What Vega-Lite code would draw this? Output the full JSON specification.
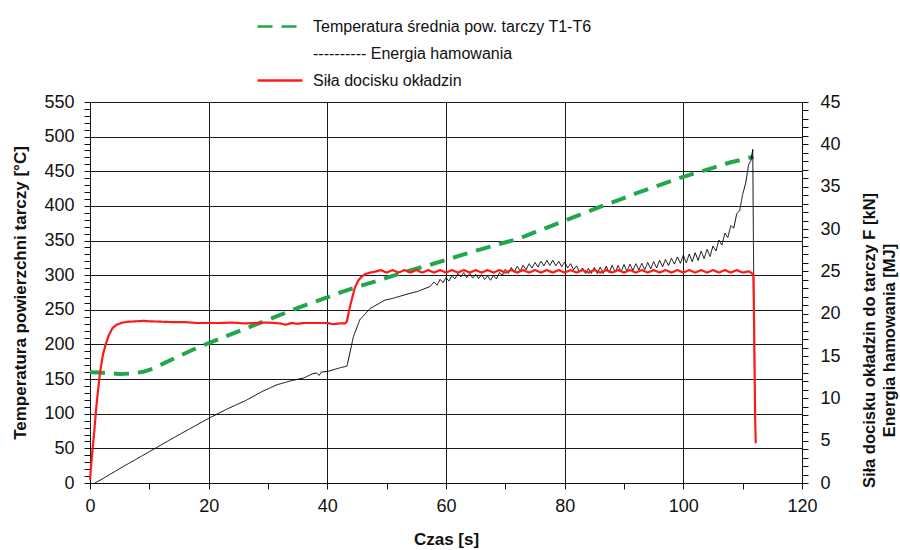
{
  "$schema": "https://vega.github.io/schema/vega-lite/v6.json",
  "width": 712,
  "height": 381,
  "autosize": {"type": "none"},
  "padding": {"left": 90, "top": 102, "right": 98, "bottom": 67},
  "background": "white",
  "config": {
    "font": "Liberation Sans",
    "view": {"stroke": null},
    "axis": {
      "labelFont": "Liberation Sans",
      "labelFontSize": 18,
      "labelColor": "#111",
      "titleFont": "Liberation Sans",
      "titleFontSize": 17,
      "titleFontWeight": "bold",
      "titleColor": "#111",
      "domainColor": "#111",
      "tickColor": "#111",
      "labelOverlap": false,
      "labelFlush": false,
      "labelBound": false
    },
    "legend": {
      "orient": "top",
      "offset": 13,
      "direction": "vertical",
      "titleOrient": "left",
      "titlePadding": 166,
      "titleFontSize": 4,
      "symbolType": "stroke",
      "symbolSize": 2025,
      "symbolStrokeWidth": 2.5,
      "labelFont": "Liberation Sans",
      "labelFontSize": 16,
      "labelColor": "#111",
      "labelOffset": 9,
      "labelLimit": 500,
      "rowPadding": 10,
      "clipHeight": 17
    }
  },
  "datasets": {
    "temp": [
      {"t": 0, "v": 160}, {"t": 1.5, "v": 159.5}, {"t": 3, "v": 158.5}, {"t": 5, "v": 157.5}, {"t": 7, "v": 158},
      {"t": 9, "v": 160.5}, {"t": 10.6, "v": 165}, {"t": 12.5, "v": 173}, {"t": 15, "v": 183}, {"t": 17.5, "v": 193},
      {"t": 20, "v": 202}, {"t": 22.4, "v": 210}, {"t": 25, "v": 219}, {"t": 28, "v": 229}, {"t": 31, "v": 239},
      {"t": 34.2, "v": 250}, {"t": 37, "v": 259}, {"t": 40, "v": 268}, {"t": 42.5, "v": 276}, {"t": 45, "v": 283},
      {"t": 47.7, "v": 290}, {"t": 51, "v": 299}, {"t": 54, "v": 307}, {"t": 57.3, "v": 315}, {"t": 60, "v": 322},
      {"t": 63, "v": 330}, {"t": 65.7, "v": 337}, {"t": 69, "v": 345}, {"t": 72, "v": 352}, {"t": 75, "v": 362},
      {"t": 78, "v": 372}, {"t": 81, "v": 382}, {"t": 84, "v": 392}, {"t": 87, "v": 402}, {"t": 89.3, "v": 409},
      {"t": 92, "v": 418}, {"t": 95, "v": 427}, {"t": 98, "v": 436}, {"t": 100, "v": 442}, {"t": 102.3, "v": 448},
      {"t": 105, "v": 455}, {"t": 108, "v": 463}, {"t": 110, "v": 467}, {"t": 111.8, "v": 471}
    ],
    "energy": [
      {"t": 0.8, "v": 0}, {"t": 2, "v": 0.45}, {"t": 5, "v": 1.7}, {"t": 10, "v": 3.7}, {"t": 15, "v": 5.7},
      {"t": 19.9, "v": 7.6}, {"t": 23, "v": 8.7}, {"t": 26.4, "v": 9.8}, {"t": 29, "v": 10.8}, {"t": 31.5, "v": 11.6},
      {"t": 34, "v": 12.1}, {"t": 36, "v": 12.4}, {"t": 37.5, "v": 12.9}, {"t": 38.2, "v": 13.0}, {"t": 38.6, "v": 12.7},
      {"t": 39, "v": 13.1}, {"t": 40.2, "v": 13.2}, {"t": 42.1, "v": 13.6}, {"t": 43.3, "v": 13.8}, {"t": 43.6, "v": 14.7},
      {"t": 44.4, "v": 17.3}, {"t": 45.5, "v": 19.3}, {"t": 47.2, "v": 20.6}, {"t": 49.7, "v": 21.6}, {"t": 51, "v": 21.8},
      {"t": 53.9, "v": 22.4}, {"t": 55.1, "v": 22.6}, {"t": 57.3, "v": 23.2},
      {"t": 58, "v": 23.75}, {"t": 58.5, "v": 23.35}, {"t": 59, "v": 24.05}, {"t": 59.5, "v": 23.65}, {"t": 60, "v": 24.25},
      {"t": 60.5, "v": 23.85}, {"t": 61, "v": 24.5}, {"t": 61.5, "v": 24.1}, {"t": 62, "v": 24.75}, {"t": 62.5, "v": 24.35},
      {"t": 63, "v": 24.85}, {"t": 63.5, "v": 24.25}, {"t": 64, "v": 24.75}, {"t": 64.5, "v": 24.2}, {"t": 65, "v": 24.65},
      {"t": 65.5, "v": 24.15}, {"t": 66, "v": 24.6}, {"t": 66.5, "v": 24.05}, {"t": 67, "v": 24.45}, {"t": 67.5, "v": 23.95},
      {"t": 68, "v": 24.5}, {"t": 68.5, "v": 24.1}, {"t": 69, "v": 24.85}, {"t": 69.5, "v": 24.55}, {"t": 70, "v": 25.25},
      {"t": 70.5, "v": 24.75}, {"t": 71, "v": 25.45}, {"t": 71.5, "v": 24.9}, {"t": 72, "v": 25.6}, {"t": 72.5, "v": 25.05},
      {"t": 73, "v": 25.7}, {"t": 73.5, "v": 25.2}, {"t": 74, "v": 25.9}, {"t": 74.5, "v": 25.4}, {"t": 75, "v": 26.05},
      {"t": 75.5, "v": 25.5}, {"t": 76, "v": 26.2}, {"t": 76.5, "v": 25.65}, {"t": 77, "v": 26.3}, {"t": 77.5, "v": 25.7},
      {"t": 78, "v": 26.3}, {"t": 78.5, "v": 25.65}, {"t": 79, "v": 26.2}, {"t": 79.5, "v": 25.55}, {"t": 80, "v": 26.1},
      {"t": 80.5, "v": 25.4}, {"t": 81, "v": 25.9}, {"t": 81.5, "v": 25.2}, {"t": 82, "v": 25.65}, {"t": 82.5, "v": 24.9},
      {"t": 83, "v": 25.4}, {"t": 83.5, "v": 24.75}, {"t": 84, "v": 25.35}, {"t": 84.5, "v": 24.75}, {"t": 85, "v": 25.45},
      {"t": 85.5, "v": 24.75}, {"t": 86, "v": 25.5}, {"t": 86.5, "v": 24.75}, {"t": 87, "v": 25.6}, {"t": 87.5, "v": 24.85},
      {"t": 88, "v": 25.7}, {"t": 88.5, "v": 24.9}, {"t": 89, "v": 25.7}, {"t": 89.5, "v": 24.95}, {"t": 90, "v": 25.8},
      {"t": 90.5, "v": 25.0}, {"t": 91, "v": 25.85}, {"t": 91.5, "v": 25.1}, {"t": 92, "v": 25.9}, {"t": 92.5, "v": 25.15},
      {"t": 93, "v": 25.95}, {"t": 93.5, "v": 25.2}, {"t": 94, "v": 26.05}, {"t": 94.5, "v": 25.3}, {"t": 95, "v": 26.15},
      {"t": 95.5, "v": 25.4}, {"t": 96, "v": 26.3}, {"t": 96.5, "v": 25.55}, {"t": 97, "v": 26.4}, {"t": 97.5, "v": 25.7},
      {"t": 98, "v": 26.55}, {"t": 98.5, "v": 25.85}, {"t": 99, "v": 26.7}, {"t": 99.5, "v": 25.95}, {"t": 100, "v": 26.9},
      {"t": 100.5, "v": 26.0}, {"t": 101, "v": 27.05}, {"t": 101.5, "v": 26.15}, {"t": 102, "v": 27.2}, {"t": 102.5, "v": 26.3},
      {"t": 103, "v": 27.4}, {"t": 103.5, "v": 26.5}, {"t": 104, "v": 27.6}, {"t": 104.5, "v": 26.75}, {"t": 105, "v": 28.0},
      {"t": 105.5, "v": 27.4}, {"t": 106, "v": 28.7}, {"t": 106.5, "v": 28.1}, {"t": 107, "v": 29.5}, {"t": 107.5, "v": 29.0},
      {"t": 108, "v": 30.4}, {"t": 108.5, "v": 30.1}, {"t": 109, "v": 31.8}, {"t": 109.5, "v": 32.2}, {"t": 110, "v": 34.1},
      {"t": 110.5, "v": 35.4}, {"t": 111, "v": 37.6}, {"t": 111.4, "v": 38.1}, {"t": 111.7, "v": 39.4}, {"t": 111.85, "v": 25},
      {"t": 112.0, "v": 12}, {"t": 112.1, "v": 9.0}
    ],
    "force": [
      {"t": 0, "v": 0.4}, {"t": 0.3, "v": 3.0}, {"t": 0.7, "v": 5.9}, {"t": 1.0, "v": 8.5}, {"t": 1.3, "v": 10.6},
      {"t": 1.6, "v": 12.5}, {"t": 1.85, "v": 13.8}, {"t": 2.2, "v": 15.2}, {"t": 2.7, "v": 16.5}, {"t": 3.2, "v": 17.5},
      {"t": 3.8, "v": 18.3}, {"t": 4.5, "v": 18.7}, {"t": 5.5, "v": 18.95}, {"t": 6.5, "v": 19.05}, {"t": 7.8, "v": 19.1},
      {"t": 9, "v": 19.15}, {"t": 10, "v": 19.1}, {"t": 12, "v": 19.05}, {"t": 14, "v": 19.0}, {"t": 16, "v": 19.0},
      {"t": 18, "v": 18.9}, {"t": 20, "v": 18.9}, {"t": 22, "v": 18.9}, {"t": 24, "v": 18.95}, {"t": 26, "v": 18.85},
      {"t": 28, "v": 18.9}, {"t": 30, "v": 18.95}, {"t": 32, "v": 18.85}, {"t": 33, "v": 18.7}, {"t": 34, "v": 18.9},
      {"t": 35, "v": 18.8}, {"t": 36, "v": 18.9}, {"t": 38, "v": 18.9}, {"t": 40, "v": 18.9}, {"t": 41, "v": 18.75},
      {"t": 42, "v": 18.85}, {"t": 43, "v": 18.85}, {"t": 43.3, "v": 19.1}, {"t": 43.7, "v": 20.5}, {"t": 44.1, "v": 21.6},
      {"t": 44.6, "v": 23.0}, {"t": 45.2, "v": 23.9}, {"t": 45.8, "v": 24.4}, {"t": 46.5, "v": 24.7}, {"t": 47.2, "v": 24.85},
      {"t": 48, "v": 24.95}, {"t": 49, "v": 25.15}, {"t": 50, "v": 24.85}, {"t": 51, "v": 25.15}, {"t": 52, "v": 24.85},
      {"t": 53, "v": 25.15}, {"t": 54, "v": 24.85}, {"t": 55, "v": 25.15}, {"t": 56, "v": 24.85}, {"t": 57, "v": 25.15},
      {"t": 58, "v": 24.85}, {"t": 59, "v": 25.15}, {"t": 60, "v": 24.85}, {"t": 61, "v": 25.15}, {"t": 62, "v": 24.85},
      {"t": 63, "v": 25.15}, {"t": 64, "v": 24.85}, {"t": 65, "v": 25.15}, {"t": 66, "v": 24.85}, {"t": 67, "v": 25.15},
      {"t": 68, "v": 24.85}, {"t": 69, "v": 25.15}, {"t": 70, "v": 24.85}, {"t": 71, "v": 25.15}, {"t": 72, "v": 24.85},
      {"t": 73, "v": 25.15}, {"t": 74, "v": 24.85}, {"t": 75, "v": 25.15}, {"t": 76, "v": 24.85}, {"t": 77, "v": 25.15},
      {"t": 78, "v": 24.85}, {"t": 79, "v": 25.15}, {"t": 80, "v": 24.85}, {"t": 81, "v": 25.15}, {"t": 82, "v": 24.85},
      {"t": 83, "v": 25.15}, {"t": 84, "v": 24.85}, {"t": 85, "v": 25.15}, {"t": 86, "v": 24.85}, {"t": 87, "v": 25.15},
      {"t": 88, "v": 24.85}, {"t": 89, "v": 25.15}, {"t": 90, "v": 24.85}, {"t": 91, "v": 25.15}, {"t": 92, "v": 24.85},
      {"t": 93, "v": 25.15}, {"t": 94, "v": 24.85}, {"t": 95, "v": 25.15}, {"t": 96, "v": 24.85}, {"t": 97, "v": 25.15},
      {"t": 98, "v": 24.85}, {"t": 99, "v": 25.15}, {"t": 100, "v": 24.85}, {"t": 101, "v": 25.15}, {"t": 102, "v": 24.85},
      {"t": 103, "v": 25.15}, {"t": 104, "v": 24.85}, {"t": 105, "v": 25.15}, {"t": 106, "v": 24.85}, {"t": 107, "v": 25.15},
      {"t": 108, "v": 24.85}, {"t": 109, "v": 25.15}, {"t": 110, "v": 24.85}, {"t": 111, "v": 25.0}, {"t": 111.5, "v": 24.8},
      {"t": 111.8, "v": 24.6}, {"t": 111.9, "v": 20.3}, {"t": 112.0, "v": 14.2}, {"t": 112.1, "v": 7.8}, {"t": 112.2, "v": 4.7}
    ]
  },
  "layer": [
    {
      "data": {"name": "temp"},
      "mark": {"type": "line", "strokeCap": "butt", "strokeWidth": 4},
      "encoding": {
        "x": {
          "field": "t", "type": "quantitative",
          "scale": {"domain": [0, 120], "nice": false},
          "axis": {
            "title": "Czas [s]",
            "values": [0, 10, 20, 30, 40, 50, 60, 70, 80, 90, 100, 110, 120],
            "labelExpr": "datum.value % 20 === 0 ? datum.label : ''",
            "tickSize": 6,
            "labelPadding": 8,
            "titlePadding": 16,
            "grid": true,
            "gridColor": "#1a1a1a",
            "gridWidth": 1,
            "gridOpacity": {"condition": {"test": "datum.value % 20 === 0", "value": 1}, "value": 0}
          }
        },
        "y": {
          "field": "v", "type": "quantitative",
          "scale": {"domain": [0, 550], "nice": false},
          "axis": {
            "orient": "left",
            "title": "Temperatura powierzchni tarczy [°C]",
            "values": [0, 10, 20, 30, 40, 50, 60, 70, 80, 90, 100, 110, 120, 130, 140, 150, 160, 170, 180, 190, 200, 210, 220, 230, 240, 250, 260, 270, 280, 290, 300, 310, 320, 330, 340, 350, 360, 370, 380, 390, 400, 410, 420, 430, 440, 450, 460, 470, 480, 490, 500, 510, 520, 530, 540, 550],
            "labelExpr": "datum.value % 50 === 0 ? datum.label : ''",
            "tickSize": 6,
            "labelPadding": 10,
            "titlePadding": 14,
            "grid": true,
            "gridColor": "#1a1a1a",
            "gridWidth": 1,
            "gridOpacity": {"condition": {"test": "datum.value % 50 === 0", "value": 1}, "value": 0}
          }
        },
        "color": {
          "datum": "T", "type": "nominal",
          "scale": {"domain": ["T", "E", "F"], "range": ["#21a64b", "rgba(0,0,0,0)", "#ff1a1a"]},
          "legend": {
            "title": " ",
            "labelExpr": "datum.label === 'T' ? 'Temperatura średnia pow. tarczy T1-T6' : datum.label === 'E' ? '---------- Energia hamowania' : 'Siła docisku okładzin'"
          }
        },
        "strokeDash": {
          "datum": "T", "type": "nominal",
          "scale": {"domain": ["T", "E", "F"], "range": [[15, 9], [1, 0], [1, 0]]},
          "legend": {
            "title": " ",
            "labelExpr": "datum.label === 'T' ? 'Temperatura średnia pow. tarczy T1-T6' : datum.label === 'E' ? '---------- Energia hamowania' : 'Siła docisku okładzin'"
          }
        }
      }
    },
    {
      "data": {"name": "energy"},
      "mark": {"type": "line", "strokeWidth": 1},
      "encoding": {
        "x": {"field": "t", "type": "quantitative", "scale": {"domain": [0, 120], "nice": false}},
        "y": {
          "field": "v", "type": "quantitative",
          "scale": {"domain": [0, 45], "nice": false},
          "axis": {
            "orient": "right",
            "title": ["Siła docisku okładzin do tarczy F [kN]", "Energia hamowania [MJ]"],
            "titleAngle": 270,
            "titleFontSize": 16.5,
            "titlePadding": 17,
            "titleLineHeight": 20,
            "titleY": 238,
            "values": [0, 1, 2, 3, 4, 5, 6, 7, 8, 9, 10, 11, 12, 13, 14, 15, 16, 17, 18, 19, 20, 21, 22, 23, 24, 25, 26, 27, 28, 29, 30, 31, 32, 33, 34, 35, 36, 37, 38, 39, 40, 41, 42, 43, 44, 45],
            "labelExpr": "datum.value % 5 === 0 ? datum.label : ''",
            "tickSize": 6,
            "labelPadding": 12,
            "grid": false
          }
        },
        "color": {"datum": "E", "type": "nominal"},
        "stroke": {"value": "#000000"},
        "strokeDash": {"datum": "E", "type": "nominal"}
      }
    },
    {
      "data": {"name": "force"},
      "mark": {"type": "line", "strokeWidth": 2.2},
      "encoding": {
        "x": {"field": "t", "type": "quantitative", "scale": {"domain": [0, 120], "nice": false}},
        "y": {"field": "v", "type": "quantitative", "scale": {"domain": [0, 45], "nice": false}, "axis": null},
        "color": {"datum": "F", "type": "nominal"},
        "strokeDash": {"datum": "F", "type": "nominal"}
      }
    }
  ],
  "resolve": {"scale": {"y": "independent"}}
}
